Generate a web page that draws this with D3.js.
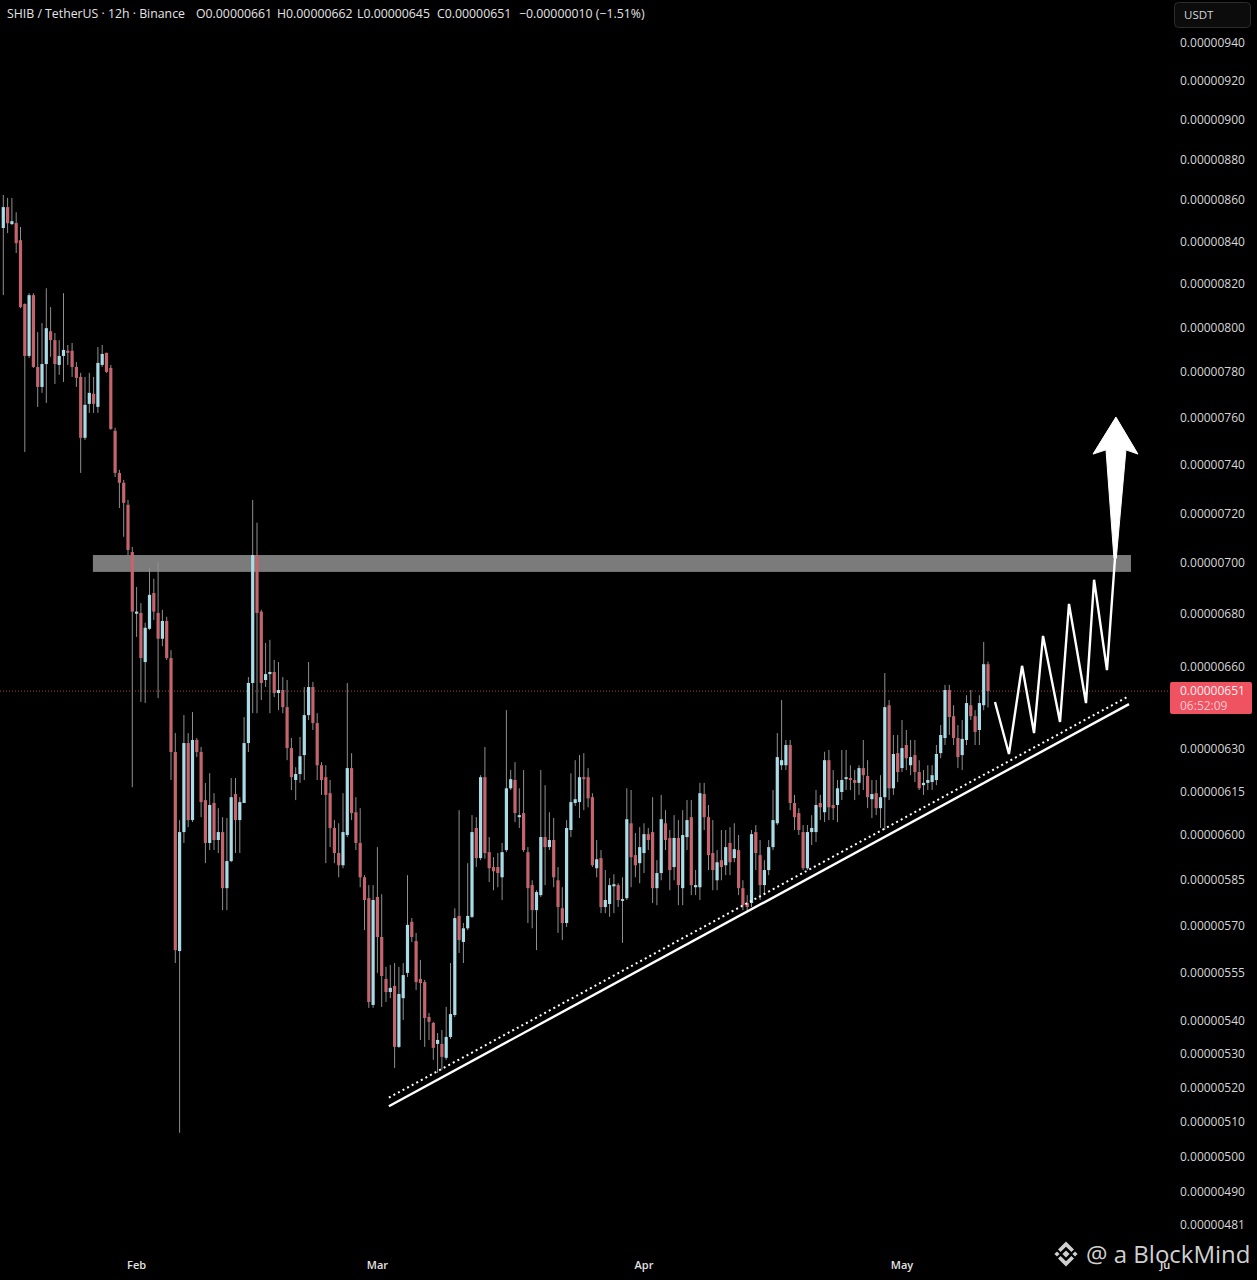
<!DOCTYPE html>
<html><head><meta charset="utf-8">
<script src="https://cdn.jsdelivr.net/npm/d3@7"></script>
<style>
html,body{margin:0;padding:0;background:#000;}
svg{display:block;}
</style></head>
<body>
<svg id="chart" width="1257" height="1280"></svg>
<script>
// ---------- DATA (prices in units of 1e-8 USDT) ----------
const UNIT = 1e-8;
const barStart = "2025-01-16T12:00:00Z";
const barHours = 12;

const opens = [
846.4,856.5,848.3,848.8,840.6,810.7,787.2,814.8,782.3,773.5,
783.6,798.3,794.3,783.2,787.2,789.5,789.5,782.3,777.9,751.5,
766.1,770.5,764.8,783.2,788.6,781.9,754.5,736.7,732.6,723.5,
704.4,680.2,680.5,661.8,674.4,688.2,680.5,670.6,677.4,663.3,
628.9,561.8,601.0,632.1,605.1,633.2,628.9,612.0,597.3,611.0,
598.3,601.0,582.2,591.2,614.1,605.1,611.0,632.1,654.0,703.2,
681.0,655.1,657.3,658.1,650.3,651.4,645.1,630.3,619.0,621.1,
627.8,642.2,652.5,639.3,624.2,620.0,614.4,602.4,593.9,589.8,
600.0,623.2,607.8,597.3,585.8,578.9,544.9,579.3,566.3,553.0,
548.9,550.8,532.1,547.0,554.9,571.2,565.0,553.0,552.0,541.2,
539.4,533.0,533.0,528.8,535.1,541.8,573.1,564.7,569.1,572.8,
602.4,592.2,620.0,594.2,589.2,589.2,585.8,594.9,616.1,619.0,
606.1,607.5,594.2,583.2,575.0,579.9,599.3,595.9,598.3,584.8,
575.6,570.8,601.7,611.0,611.3,620.0,620.0,613.0,588.8,592.2,
576.0,577.0,582.8,583.2,578.0,578.9,604.0,593.2,590.5,593.9,
600.3,601.0,582.2,587.2,604.0,599.0,589.2,599.0,582.2,599.3,
606.1,582.5,582.5,614.1,606.1,593.9,584.8,591.5,589.8,597.3,
592.2,594.9,582.2,577.3,577.3,601.0,593.2,583.2,588.2,595.9,
604.0,624.2,624.2,631.4,611.0,607.5,601.0,588.8,601.0,601.0,
611.0,607.8,626.0,610.3,610.3,614.8,619.3,619.7,619.0,618.0,
623.2,620.4,612.3,614.4,609.2,613.0,645.8,616.1,628.5,623.2,
631.4,624.2,627.8,621.8,617.2,618.0,618.3,619.0,628.5,633.9,
651.4,641.8,633.9,627.8,633.2,645.8,641.8,636.8,645.8,661
];
const highs = [
862.4,861.0,860.9,854.0,846.9,811.0,815.7,815.7,797.9,802.0,
818.0,809.3,797.5,794.3,815.7,792.1,793.0,784.5,779.7,777.9,
779.7,777.9,791.2,792.1,788.6,783.2,755.8,738.0,733.8,725.5,
706.4,690.6,684.3,676.7,698.1,693.8,700.5,681.7,679.0,666.3,
635.7,605.1,642.2,635.7,643.3,633.9,630.7,618.0,621.4,614.4,
609.2,606.1,605.8,619.7,619.7,613.0,641.5,656.2,725.5,716.2,
681.7,669.0,670.2,662.6,661.8,656.2,655.1,633.9,623.5,634.3,
652.5,661.8,654.4,642.9,625.3,624.2,619.0,605.1,604.0,614.4,
654.0,628.5,613.0,609.2,586.5,583.2,583.2,595.9,580.2,556.8,
557.4,558.0,556.8,558.0,586.5,572.4,567.6,559.0,552.7,542.4,
539.7,536.3,537.2,544.3,558.0,575.6,608.5,570.8,590.5,606.8,
606.1,620.7,630.7,599.3,592.5,593.9,597.3,644.0,622.5,625.3,
616.1,622.5,595.9,584.8,581.5,622.5,617.2,607.8,605.8,589.2,
582.5,605.1,621.4,626.0,627.8,628.5,623.2,614.4,598.3,594.9,
588.2,585.5,586.8,583.8,585.8,616.1,615.5,600.7,602.7,604.0,
602.4,613.0,591.5,613.8,608.5,601.7,606.8,605.1,608.5,612.0,
612.0,588.2,618.0,618.0,610.3,605.1,594.9,601.7,601.7,602.7,
604.0,600.0,584.8,579.9,601.7,603.4,598.3,591.5,598.3,615.5,
635.7,647.7,633.2,633.2,613.8,609.2,603.4,603.4,606.8,615.5,
613.8,629.0,629.6,622.5,619.0,629.6,629.6,624.2,622.5,624.2,
633.2,626.0,619.0,619.0,620.7,657.7,647.7,635.0,635.0,640.4,
636.8,633.2,633.2,626.0,622.5,624.2,624.2,631.4,638.6,653.3,
653.3,645.8,638.6,640.4,649.5,651.4,644.0,649.5,669.4,662
];
const lows = [
814.8,844.0,847.8,834.5,808.8,745.5,786.3,781.9,764.8,770.9,
766.5,786.8,774.8,778.8,775.7,783.2,777.9,773.5,736.7,750.6,
762.2,762.2,762.2,782.3,779.7,754.9,735.0,722.2,710.5,703.2,
616.5,671.3,647.0,646.6,674.0,677.8,648.4,667.8,662.6,619.0,
558.0,506.8,597.3,602.7,604.4,627.1,606.1,590.5,594.9,594.9,
593.9,575.0,575.0,590.8,593.9,593.9,611.0,628.9,642.9,642.9,
647.7,652.5,642.9,648.8,644.0,642.9,626.0,615.5,612.0,618.0,
619.0,640.4,636.8,619.0,613.8,590.5,595.9,590.5,585.8,588.8,
599.3,605.1,594.9,582.5,568.5,544.0,544.0,554.9,544.3,545.8,
547.0,525.8,531.8,540.3,553.6,564.7,549.5,534.2,532.1,534.2,
528.2,524.3,525.2,528.2,534.5,541.2,561.2,558.0,568.5,572.4,
589.2,591.5,592.0,584.2,581.5,582.5,578.3,594.2,615.5,604.4,
602.4,594.2,570.8,569.1,562.1,579.3,583.2,594.9,582.5,567.6,
565.3,569.5,599.3,610.0,605.8,608.5,609.5,589.2,585.8,574.0,
574.0,572.8,574.0,576.0,564.4,578.3,582.5,585.8,583.8,587.2,
594.9,577.3,576.6,584.8,594.9,581.5,584.8,576.6,576.6,594.9,
579.9,579.9,578.3,601.7,588.2,581.5,581.5,584.8,586.5,586.5,
590.8,579.9,575.0,574.4,576.0,588.2,578.3,579.9,586.5,594.9,
603.4,622.5,622.5,608.5,601.7,600.0,588.2,588.2,596.6,597.6,
605.1,604.4,605.1,605.1,604.4,612.0,615.5,615.5,612.0,613.8,
615.5,609.2,605.8,606.8,602.4,601.7,612.0,613.8,618.3,621.8,
622.5,620.7,618.3,615.5,613.8,615.5,615.5,617.2,626.7,631.4,
635.0,631.4,623.2,622.5,631.4,640.4,631.4,631.4,644.0,645
];
const closes = [
856.5,848.7,849.7,839.2,809.3,787.2,814.8,782.3,773.5,783.6,
799.7,794.3,783.6,787.2,789.9,788.6,782.3,777.5,751.5,765.7,
770.9,766.1,784.1,788.1,780.1,755.3,736.7,732.6,724.3,705.2,
681.0,681.0,663.3,674.8,687.5,681.0,670.6,677.4,663.3,628.9,
562.1,601.0,632.1,605.1,633.2,628.9,611.3,597.3,610.3,598.3,
601.0,582.2,591.2,613.0,605.1,611.3,632.1,654.0,703.2,680.5,
654.0,657.3,658.1,650.3,651.4,645.1,630.3,620.0,621.1,627.4,
642.2,652.5,639.3,624.2,619.0,613.8,602.4,593.9,589.8,601.0,
623.2,607.5,597.3,585.8,578.3,545.8,578.3,566.3,553.9,548.9,
550.2,532.1,548.3,554.2,570.2,566.3,552.0,551.7,540.9,539.7,
531.8,534.2,529.1,535.1,542.1,572.4,565.3,569.1,573.1,601.0,
592.2,620.0,593.9,588.8,587.8,587.2,594.2,616.1,619.3,607.5,
606.8,594.9,582.2,575.0,580.9,599.3,595.9,598.3,585.8,576.0,
570.8,602.4,611.3,612.3,620.0,619.3,612.6,589.8,591.8,576.0,
578.3,583.2,583.5,578.3,578.6,605.4,592.5,589.8,595.9,600.3,
598.3,582.2,587.2,605.4,598.3,588.2,599.0,583.2,600.0,605.1,
583.2,583.2,614.4,606.1,593.2,588.2,590.8,589.2,595.9,590.8,
595.2,582.2,576.6,576.0,600.3,593.9,583.2,588.2,595.9,605.1,
627.1,626.0,631.4,611.0,606.1,601.7,588.8,601.0,602.4,610.3,
609.5,626.0,609.5,609.2,616.1,619.0,620.0,619.0,618.0,623.2,
620.7,613.0,614.1,609.2,613.0,645.1,616.1,628.2,621.8,630.3,
626.7,627.1,621.8,616.1,618.0,619.0,620.7,628.2,635.0,651.4,
641.5,633.9,627.1,633.6,646.6,641.8,636.1,646.6,661.0,651
];

const priceTicks = [940,920,900,880,860,840,820,800,780,760,740,720,700,680,660,630,615,600,585,570,555,540,530,520,510,500,490,481];
const monthTicks = ["2025-02-01","2025-03-01","2025-04-01","2025-05-01","2025-06-01"];

// resistance zone
const zoneTimes = ["2025-01-26T22:00:00Z","2025-05-27T15:00:00Z"];
const zonePrices = [696.5, 703.2];
// rising support lines
const supportTimes = ["2025-03-02T08:00:00Z","2025-05-27T09:30:00Z"];
const supportPrices = [514.5, 646.2];
const dottedTimes = ["2025-03-02T08:00:00Z","2025-05-27T04:00:00Z"];
const dottedPrices = [517.0, 648.8];
// projected zigzag path
const zigTimes = ["2025-05-11T19:30:00Z","2025-05-13T10:30:00Z","2025-05-14T23:00:00Z","2025-05-16T08:30:00Z","2025-05-17T09:30:00Z","2025-05-19T09:00:00Z","2025-05-20T10:00:00Z","2025-05-22T09:30:00Z","2025-05-23T08:00:00Z","2025-05-24T20:00:00Z","2025-05-25T18:30:00Z"];
const zigPrices = [647.0,628.2,660.4,635.7,671.7,639.7,684.0,646.6,693.4,658.8,702.1];
// breakout arrow outline
const arrowTimes = ["2025-05-25T21:00:00Z","2025-05-28T10:30:00Z","2025-05-27T01:00:00Z","2025-05-25T22:00:00Z","2025-05-25T15:30:00Z","2025-05-24T17:20:00Z","2025-05-23T05:00:00Z"];
const arrowPrices = [760.4,744.6,746.4,701.9,701.9,746.4,744.6];

const countdown = "06:52:09";

// ---------- SCALES ----------
const svg = d3.select("#chart");
const W = 1257, H = 1280, plotRight = 1168, plotBottom = 1248;
const parse = s => new Date(s);
const x = d3.scaleUtc()
  .domain([parse("2025-01-16T12:00:00Z"), parse("2025-06-01T00:00:00Z")])
  .range([3.3, 1168.6]);
const y = d3.scaleLog().domain([940, 481]).range([43, 1225]);
const fmt = v => (v * UNIT).toFixed(8);

svg.append("rect").attr("width", W).attr("height", H).attr("fill", "#000");

const defs = svg.append("defs");
defs.append("clipPath").attr("id", "plotclip").append("rect")
  .attr("x", 0).attr("y", 0).attr("width", plotRight).attr("height", plotBottom);
defs.append("clipPath").attr("id", "timeclip").append("rect")
  .attr("x", 0).attr("y", plotBottom).attr("width", 1170).attr("height", H - plotBottom);

const plot = svg.append("g").attr("clip-path", "url(#plotclip)");

const candles = opens.map((o, i) => ({
  t: d3.utcHour.offset(parse(barStart), i * barHours),
  o, h: highs[i], l: lows[i], c: closes[i]
}));

// zone (behind candles)
plot.append("rect")
  .attr("x", x(parse(zoneTimes[0])))
  .attr("width", x(parse(zoneTimes[1])) - x(parse(zoneTimes[0])))
  .attr("y", y(zonePrices[1]))
  .attr("height", y(zonePrices[0]) - y(zonePrices[1]))
  .attr("fill", "#7b7b7b");

// current price dotted line
const last = candles[candles.length - 1];
const prev = candles[candles.length - 2];
plot.append("line")
  .attr("x1", 0).attr("x2", plotRight)
  .attr("y1", y(last.c)).attr("y2", y(last.c))
  .attr("stroke", "#a4434b").attr("stroke-width", 1)
  .attr("stroke-dasharray", "1,2");

// candles
const upCol = "#a9dce7", dnCol = "#c4646d";
const cg = plot.append("g");
cg.selectAll("line.wick").data(candles).join("line")
  .attr("class", "wick")
  .attr("x1", d => x(d.t)).attr("x2", d => x(d.t))
  .attr("y1", d => y(d.h)).attr("y2", d => y(d.l))
  .attr("stroke", "#8f8f8f").attr("stroke-width", 1);
cg.selectAll("rect.body").data(candles).join("rect")
  .attr("class", "body")
  .attr("x", d => x(d.t) - 1.6)
  .attr("width", 3.2)
  .attr("y", d => y(Math.max(d.o, d.c)))
  .attr("height", d => Math.max(1.2, Math.abs(y(d.o) - y(d.c))))
  .attr("fill", d => d.c >= d.o ? upCol : dnCol);

// support lines
plot.append("line")
  .attr("x1", x(parse(supportTimes[0]))).attr("y1", y(supportPrices[0]))
  .attr("x2", x(parse(supportTimes[1]))).attr("y2", y(supportPrices[1]))
  .attr("stroke", "#fff").attr("stroke-width", 2.4);
plot.append("line")
  .attr("x1", x(parse(dottedTimes[0]))).attr("y1", y(dottedPrices[0]))
  .attr("x2", x(parse(dottedTimes[1]))).attr("y2", y(dottedPrices[1]))
  .attr("stroke", "#fff").attr("stroke-width", 2)
  .attr("stroke-dasharray", "2,3.2");

// zigzag projection
const zig = zigTimes.map((t, i) => [x(parse(t)), y(zigPrices[i])]);
plot.append("path")
  .attr("d", d3.line()(zig))
  .attr("fill", "none").attr("stroke", "#fff").attr("stroke-width", 2.4)
  .attr("stroke-linejoin", "miter");
const arr = arrowTimes.map((t, i) => [x(parse(t)), y(arrowPrices[i])]);
plot.append("path")
  .attr("d", d3.line()(arr) + "Z")
  .attr("fill", "#fff").attr("stroke", "#fff").attr("stroke-width", 1);

// ---------- PRICE AXIS ----------
const pa = svg.append("g");
pa.selectAll("text").data(priceTicks).join("text")
  .attr("x", 1180).attr("y", d => y(d))
  .attr("dy", "0.35em")
  .attr("font-family", "'Open Sans', sans-serif").attr("font-size", 12)
  .attr("fill", "#d6d6d6")
  .text(d => fmt(d));

// USDT button
svg.append("rect").attr("x", 1174.5).attr("y", 2.5).attr("width", 76).attr("height", 25)
  .attr("rx", 4).attr("fill", "#0c0c0c").attr("stroke", "#2c2c2c");
svg.append("text").attr("x", 1184).attr("y", 19)
  .attr("font-family", "'Open Sans', sans-serif").attr("font-size", 11.5)
  .attr("fill", "#d6d6d6").text("USDT");

// current price label
const ly = y(last.c);
svg.append("rect").attr("x", 1170).attr("y", ly - 9).attr("width", 82).attr("height", 32)
  .attr("rx", 2).attr("fill", "#ef5261");
svg.append("text").attr("x", 1180).attr("y", ly).attr("dy", "0.35em")
  .attr("font-family", "'Open Sans', sans-serif").attr("font-size", 12)
  .attr("fill", "#ffeef0").text(fmt(last.c));
svg.append("text").attr("x", 1180).attr("y", ly + 15).attr("dy", "0.35em")
  .attr("font-family", "'Open Sans', sans-serif").attr("font-size", 12)
  .attr("fill", "#fbc6cb").text(countdown);

// ---------- TIME AXIS ----------
svg.append("g").attr("clip-path", "url(#timeclip)")
  .selectAll("text").data(monthTicks).join("text")
  .attr("x", d => x(parse(d + "T00:00:00Z")))
  .attr("y", 1265).attr("dy", "0.35em")
  .attr("text-anchor", "middle")
  .attr("font-family", "'Open Sans', sans-serif").attr("font-size", 11)
  .attr("font-weight", 600)
  .attr("fill", "#e2e2e2")
  .text(d => d3.utcFormat("%b")(parse(d + "T00:00:00Z")));

// ---------- HEADER ----------
const hdr = svg.append("text").attr("y", 18)
  .attr("font-family", "'Open Sans', sans-serif").attr("font-size", 12.3)
  .attr("fill", "#e4e4e4");
const chg = last.c - prev.c;
const pct = chg / prev.c * 100;
const minus = v => (v < 0 ? "\u2212" : "+");
const parts = [
  [7, "SHIB / TetherUS \u00b7 12h \u00b7 Binance"],
  [196, "O" + fmt(last.o)],
  [277, "H" + fmt(last.h)],
  [357, "L" + fmt(last.l)],
  [437, "C" + fmt(last.c)],
  [519, minus(chg) + fmt(Math.abs(chg)) + " (" + minus(pct) + Math.abs(pct).toFixed(2) + "%)"]
];
parts.forEach(p => hdr.append("tspan").attr("x", p[0]).text(p[1]));

// ---------- WATERMARK ----------
const wm = svg.append("g").attr("transform", "translate(1066,1254)").attr("fill", "#d0d0d0");
const dia = (cx, cy, r) => `M${cx},${cy - r}L${cx + r},${cy}L${cx},${cy + r}L${cx - r},${cy}Z`;
wm.append("path").attr("d", dia(0, 0, 3.6));
wm.append("path").attr("d", dia(-9, 0, 2.6));
wm.append("path").attr("d", dia(9, 0, 2.6));
wm.append("path").attr("d", "M0,-12.5L8,-4.5L5.4,-1.9L0,-7.3L-5.4,-1.9L-8,-4.5Z");
wm.append("path").attr("d", "M0,12.5L8,4.5L5.4,1.9L0,7.3L-5.4,1.9L-8,4.5Z");
svg.append("text").attr("x", 1086).attr("y", 1263)
  .attr("font-family", "'Open Sans', sans-serif").attr("font-size", 24)
  .attr("fill", "#d0d0d0").text("@ a BlockMind");
</script>
</body></html>
